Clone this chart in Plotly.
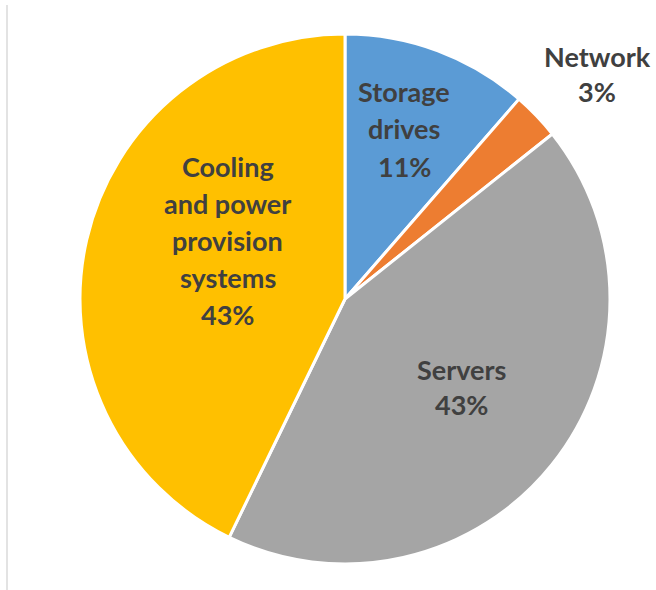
import plotly.graph_objects as go

W, H = 656, 590

categories = ["Storage drives", "Network", "Servers", "Cooling and power provision systems"]
values = [11.4, 2.9, 42.9, 42.8]
colors = ["#5B9BD5", "#ED7D31", "#A5A5A5", "#FFC000"]
name_lines = [
    ["Storage", "drives"],
    ["Network"],
    ["Servers"],
    ["Cooling", "and power", "provision", "systems"],
]
# label placement (pixel centre x, first line cap-centre y, line spacing)
label_pos = [(404, 91, 37.5), (597, 56, 36), (461, 369, 35.5), (228, 166, 37)]

fig = go.Figure(go.Pie(
    labels=categories,
    values=values,
    sort=False,
    direction="clockwise",
    rotation=0,
    marker=dict(colors=colors, line=dict(color="white", width=3)),
    textinfo="none",
    hoverinfo="label+percent",
    domain=dict(x=[80 / W, 610 / W], y=[1 - 564 / H, 1 - 34 / H]),
    showlegend=False,
))

total = sum(values)
annotations = []
for lines, v, (px, py, sp) in zip(name_lines, values, label_pos):
    all_lines = lines + [f"{round(100 * v / total)}%"]
    for i, t in enumerate(all_lines):
        annotations.append(dict(
            x=px / W, y=1 - (py + i * sp) / H, xref="paper", yref="paper",
            text=t, showarrow=False, xanchor="center", yanchor="middle",
            font=dict(family="Lato", size=27, color="#404040", weight="bold"),
        ))

fig.update_layout(
    width=W, height=H,
    margin=dict(l=0, r=0, t=0, b=0),
    paper_bgcolor="white",
    plot_bgcolor="white",
    annotations=annotations,
    shapes=[dict(type="line", xref="paper", yref="paper",
                 x0=7 / W, x1=7 / W, y0=0, y1=1 - 5 / H,
                 line=dict(color="#e3e3e3", width=2))],
)

fig.write_html("out.html")
